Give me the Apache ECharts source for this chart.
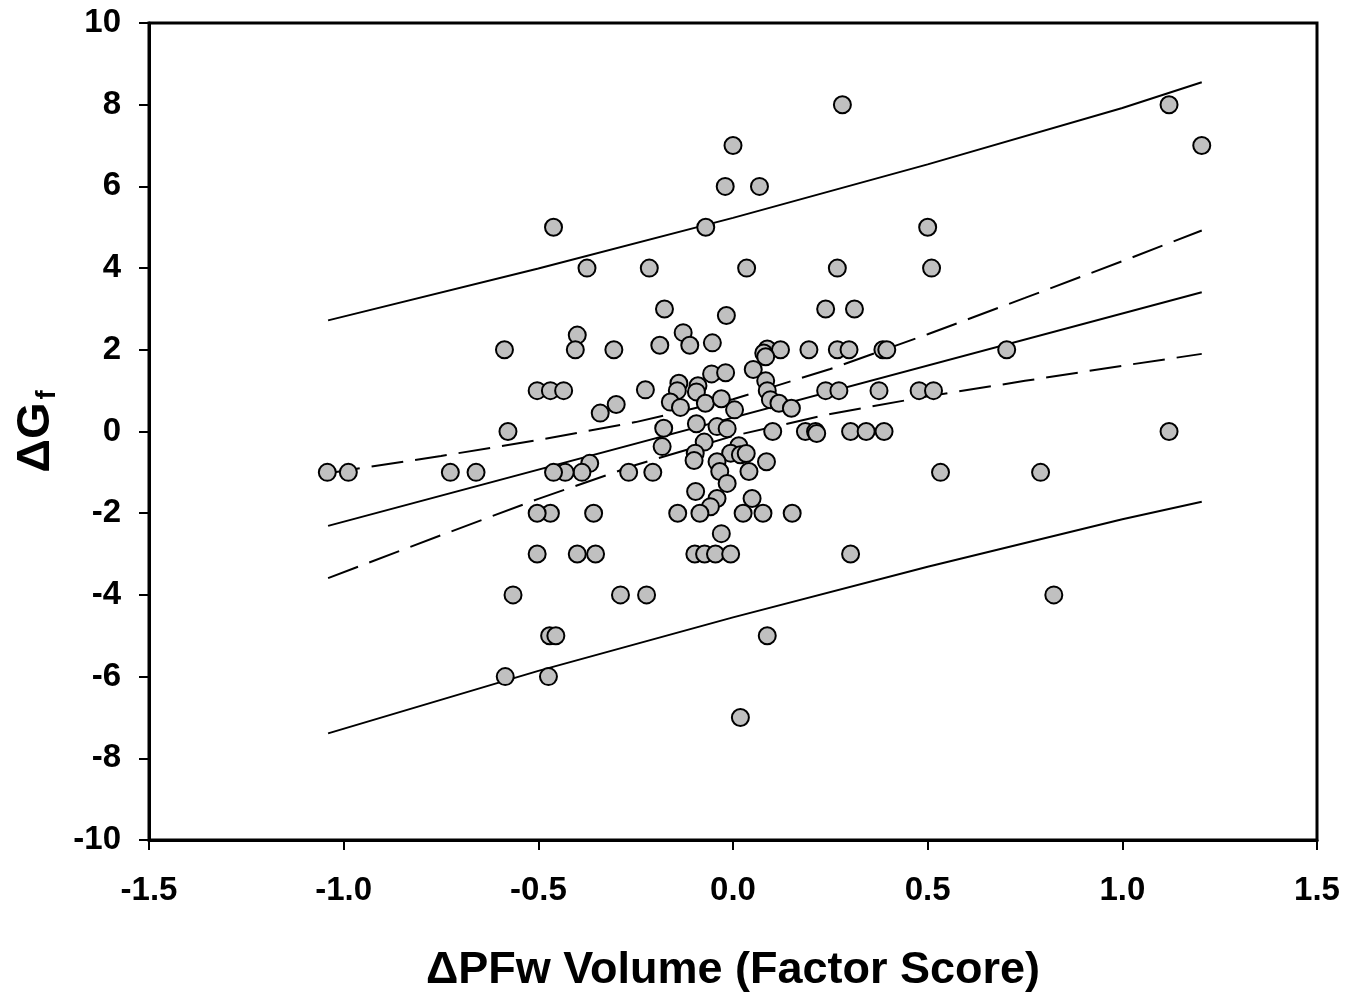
<!DOCTYPE html>
<html>
<head>
<meta charset="utf-8">
<script src="https://cdn.jsdelivr.net/npm/echarts@6/dist/echarts.min.js"></script>
<style>
html,body{margin:0;padding:0;background:#fff;}
#chart{width:1355px;height:992px;}
</style>
</head>
<body>
<div id="chart"></div>
<script>
// Observed points: ΔPFw volume (factor score) and ΔGf
const pointX = [
  0.281, 1.12, 1.204, 0.0, -0.02, 0.068, -0.461, -0.07, 0.50, -0.375,
  -0.215, 0.035, 0.268, 0.51, -0.176, 0.238, 0.312, -0.017, -0.40, -0.128,
  -0.188, -0.111, -0.053, -0.587, -0.405, -0.306, 0.088, 0.122, 0.195, 0.268,
  0.298, 0.385, 0.395, 0.703, 0.079, 0.084, 0.052, -0.055, -0.019, 0.084,
  -0.139, -0.09, -0.143, -0.094, -0.225, 0.088, 0.238, 0.272, 0.375, 0.478,
  0.515, -0.503, -0.469, -0.435, -0.161, -0.135, -0.071, -0.03, 0.004, 0.096,
  0.118, 0.15, -0.30, -0.341, -0.178, -0.094, -0.041, -0.015, 0.102, 0.186,
  0.212, 0.215, 0.302, 0.342, 0.388, 1.12, -0.578, -0.182, -0.074, 0.015,
  -0.006, 0.019, 0.034, -0.097, -0.10, -0.041, 0.086, -0.034, 0.041, -0.015,
  -0.268, -0.206, -0.368, -0.388, -0.431, -0.461, -0.66, -0.726, -0.988, -1.042,
  0.533, 0.79, -0.096, -0.041, 0.049, -0.058, -0.142, -0.085, 0.026, 0.077,
  0.152, -0.358, -0.469, -0.503, -0.03, -0.098, -0.073, -0.045, -0.006, -0.353,
  -0.40, -0.503, 0.302, -0.565, -0.289, -0.222, 0.824, -0.471, -0.455, 0.088,
  -0.585, -0.474, 0.019
];
const pointY = [
  8, 8, 7, 7, 6, 6, 5, 5, 5, 4,
  4, 4, 4, 4, 3, 3, 3, 2.84, 2.36, 2.42,
  2.11, 2.11, 2.17, 2, 2, 2, 2.02, 2, 2, 2,
  2, 2, 2, 2, 1.92, 1.83, 1.52, 1.41, 1.44, 1.24,
  1.18, 1.12, 1.0, 0.97, 1.02, 1.0, 1, 1, 1, 1,
  1, 1, 1, 1, 0.72, 0.59, 0.69, 0.8, 0.53, 0.78,
  0.69, 0.57, 0.66, 0.45, 0.08, 0.19, 0.12, 0.07, 0, 0,
  0, -0.05, 0, 0, 0, 0, 0, -0.37, -0.26, -0.35,
  -0.53, -0.57, -0.54, -0.53, -0.71, -0.74, -0.74, -0.98, -0.98, -1.27,
  -1, -1, -0.78, -1, -1, -1, -1, -1, -1, -1,
  -1, -1, -1.47, -1.64, -1.64, -1.84, -2, -2, -2, -2,
  -2, -2, -2, -2, -2.5, -3, -3, -3, -3, -3,
  -3, -3, -3, -4, -4, -4, -4, -5, -5, -5,
  -6, -6, -7
];

// Regression line and bands
const fitX = [-1.04, 1.204];
const fitY = [-2.31, 3.41];
const bandX = [-1.04, -0.75, -0.5, -0.25, 0, 0.25, 0.5, 0.75, 1.0, 1.204];
const ciUpper = [-1.02, -0.60, -0.21, 0.23, 0.79, 1.53, 2.38, 3.27, 4.17, 4.92];
const ciLower = [-3.59, -2.54, -1.65, -0.82, -0.11, 0.43, 0.86, 1.24, 1.61, 1.90];
const piX = [-1.04, -0.5, 0, 0.5, 1.0, 1.204];
const piUpper = [2.72, 3.99, 5.23, 6.54, 7.92, 8.55];
const piLower = [-7.39, -5.86, -4.55, -3.31, -2.15, -1.72];

const xTicks = [-1.5, 1.5, 0.5];
const yTicks = [-10, 10, 2];

const zip = (a, b) => a.map((v, i) => [v, b[i]]);

const chart = echarts.init(document.getElementById('chart'), null, {renderer: 'canvas'});
const FONT = '"Liberation Sans", Arial, sans-serif';
const lineSeries = (data, dashed) => ({
  type: 'line', data: data, symbol: 'none', silent: true, z: 2,
  lineStyle: {color: '#000', width: 2, type: dashed ? [32, 12] : 'solid'}
});

chart.setOption({
  animation: false,
  backgroundColor: '#fff',
  grid: {left: 149, right: 38, top: 23, bottom: 152, show: true, containLabel: false,
         outerBoundsMode: 'none',
         borderColor: '#000', borderWidth: 3, backgroundColor: 'transparent'},
  xAxis: {
    type: 'value', min: xTicks[0], max: xTicks[1], interval: xTicks[2],
    name: 'ΔPFw Volume (Factor Score)', nameLocation: 'middle', nameGap: 108,
    nameTextStyle: {fontFamily: FONT, fontWeight: 'bold', fontSize: 45, color: '#000'},
    axisLine: {show: true, onZero: false, lineStyle: {color: '#000', width: 3}},
    axisTick: {show: true, inside: false, length: 10, lineStyle: {color: '#000', width: 2}},
    axisLabel: {fontFamily: FONT, fontWeight: 'bold', fontSize: 33, color: '#000', margin: 34,
                formatter: v => v.toFixed(1)},
    splitLine: {show: false}
  },
  yAxis: {
    type: 'value', min: yTicks[0], max: yTicks[1], interval: yTicks[2],
    name: '{m|ΔG}{s|f}', nameLocation: 'middle', nameGap: 86, nameRotate: 90,
    nameTextStyle: {
      color: '#000',
      rich: {
        m: {fontFamily: FONT, fontWeight: 'bold', fontSize: 47, color: '#000', lineHeight: 50, verticalAlign: 'top'},
        s: {fontFamily: FONT, fontWeight: 'bold', fontSize: 28, color: '#000', lineHeight: 50, padding: [20, 0, 0, 3], verticalAlign: 'top'}
      }
    },
    axisLine: {show: true, onZero: false, lineStyle: {color: '#000', width: 3}},
    axisTick: {show: true, inside: false, length: 10, lineStyle: {color: '#000', width: 2}},
    axisLabel: {fontFamily: FONT, fontWeight: 'bold', fontSize: 33, color: '#000', margin: 28},
    splitLine: {show: false}
  },
  series: [
    lineSeries(zip(piX, piUpper), false),
    lineSeries(zip(piX, piLower), false),
    lineSeries(zip(bandX, ciUpper), true),
    lineSeries(zip(bandX, ciLower), true),
    lineSeries(zip(fitX, fitY), false),
    {
      type: 'scatter', z: 5, data: zip(pointX, pointY), symbol: 'circle', symbolSize: 17,
      itemStyle: {color: '#c0c0c0', borderColor: '#000', borderWidth: 2, opacity: 1}
    }
  ]
});
</script>
</body>
</html>
